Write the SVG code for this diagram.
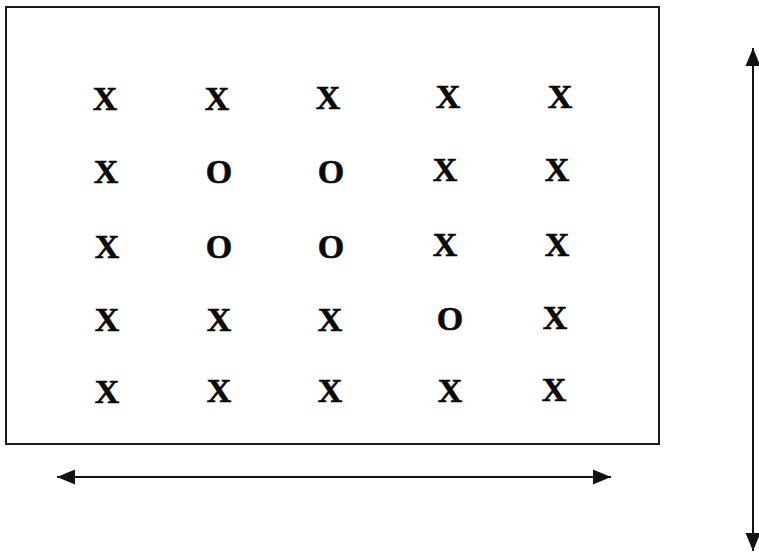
<svg xmlns="http://www.w3.org/2000/svg" width="759" height="553" viewBox="0 0 759 553">
<style>
.frame{fill:none;stroke:#1a1a1a;stroke-width:2}
.t{font-family:"Liberation Serif","Times New Roman",serif;font-weight:bold;font-size:34px;fill:#0a0a0a;stroke:#0a0a0a;stroke-width:0.6;text-anchor:middle}
.conn{stroke:#111;stroke-width:2;fill:none}
</style>
<defs>
<marker id="ah" markerUnits="userSpaceOnUse" markerWidth="19" markerHeight="16" refX="18" refY="8" orient="auto-start-reverse">
<path d="M0,0.5 L18,8 L0,15.5 z" fill="#111"/>
</marker>
</defs>
<rect width="759" height="553" fill="#ffffff"/>
<g id="frame"><rect class="frame" x="6" y="7" width="653" height="437"/></g>
<g id="grid">
<g id="r1c1"><text class="t" x="105" y="110">X</text></g>
<g id="r1c2"><text class="t" x="217" y="110">X</text></g>
<g id="r1c3"><text class="t" x="328" y="109">X</text></g>
<g id="r1c4"><text class="t" x="448" y="108">X</text></g>
<g id="r1c5"><text class="t" x="560" y="108">X</text></g>
<g id="r2c1"><text class="t" x="106" y="183">X</text></g>
<g id="r2c2"><text class="t" x="219" y="183">O</text></g>
<g id="r2c3"><text class="t" x="331" y="183">O</text></g>
<g id="r2c4"><text class="t" x="445" y="181">X</text></g>
<g id="r2c5"><text class="t" x="557" y="181">X</text></g>
<g id="r3c1"><text class="t" x="107" y="258">X</text></g>
<g id="r3c2"><text class="t" x="219" y="258">O</text></g>
<g id="r3c3"><text class="t" x="331" y="258">O</text></g>
<g id="r3c4"><text class="t" x="445" y="256">X</text></g>
<g id="r3c5"><text class="t" x="557" y="256">X</text></g>
<g id="r4c1"><text class="t" x="107" y="331">X</text></g>
<g id="r4c2"><text class="t" x="219" y="331">X</text></g>
<g id="r4c3"><text class="t" x="330" y="331">X</text></g>
<g id="r4c4"><text class="t" x="450" y="330">O</text></g>
<g id="r4c5"><text class="t" x="555" y="329">X</text></g>
<g id="r5c1"><text class="t" x="107" y="403">X</text></g>
<g id="r5c2"><text class="t" x="219" y="402">X</text></g>
<g id="r5c3"><text class="t" x="330" y="402">X</text></g>
<g id="r5c4"><text class="t" x="450" y="402">X</text></g>
<g id="r5c5"><text class="t" x="554" y="401">X</text></g>
</g>
<g id="connectors">
<line class="conn" x1="57" y1="477" x2="611" y2="477" marker-start="url(#ah)" marker-end="url(#ah)"/>
<line class="conn" x1="753" y1="48" x2="753" y2="551" marker-start="url(#ah)" marker-end="url(#ah)"/>
</g>
</svg>
